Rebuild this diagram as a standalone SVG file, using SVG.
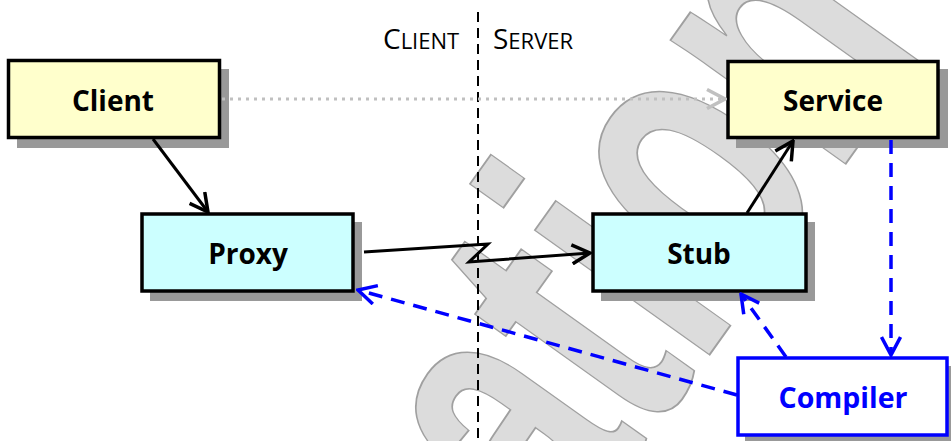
<svg xmlns="http://www.w3.org/2000/svg" width="951" height="441" viewBox="0 0 951 441">
<defs>
<style>
.wm{font-family:"Liberation Sans",Arial,sans-serif;font-weight:bold;font-size:406px;fill:#dcdcdc;stroke:#a0a0a0;stroke-width:1.6}
.shadow{fill:#999999}
.box{stroke:#000;stroke-width:3.5}
.yel{fill:#ffffcc}
.cyan{fill:#ccffff}
.lbl{font-family:"Open Sans","Liberation Sans",sans-serif;font-weight:bold;font-size:28px;fill:#000;text-anchor:middle}
.cap{font-family:"Open Sans","Liberation Sans",sans-serif;font-size:28px;fill:#000}
.sm{font-size:22px}
.solid{fill:none;stroke:#000;stroke-width:3}
.blue{fill:none;stroke:#0000ff;stroke-width:3.5;stroke-dasharray:14 9}
.dotted{fill:none;stroke:#c0c0c0;stroke-width:3;stroke-dasharray:3 5}
</style>
<marker id="ab" viewBox="0 0 22 22" refX="20" refY="11" markerWidth="22" markerHeight="22" orient="auto" markerUnits="userSpaceOnUse"><path d="M2,1.5 L20,11 L2,20.5" fill="none" stroke="#000" stroke-width="3.5"/></marker>
<marker id="au" viewBox="0 0 22 22" refX="20" refY="11" markerWidth="22" markerHeight="22" orient="auto" markerUnits="userSpaceOnUse"><path d="M2,1.5 L20,11 L2,20.5" fill="none" stroke="#0000ff" stroke-width="3.5"/></marker>
<marker id="ag" viewBox="0 0 22 22" refX="20" refY="11" markerWidth="22" markerHeight="22" orient="auto" markerUnits="userSpaceOnUse"><path d="M2,1.5 L20,11 L2,20.5" fill="none" stroke="#c0c0c0" stroke-width="3.5"/></marker>
</defs>
<rect width="951" height="441" fill="#fff"/>
<g id="watermark"><text class="wm" x="-360.9" y="0" vector-effect="non-scaling-stroke" transform="translate(698.7,369.9) rotate(-54.5) scale(0.65,1)">ation</text></g>
<g id="divider">
<line x1="478" y1="12" x2="478" y2="441" stroke="#000" stroke-width="2" stroke-dasharray="10 6"/>
<text class="cap" x="383" y="49">C<tspan class="sm">LIENT</tspan></text>
<text class="cap" x="493" y="49">S<tspan class="sm">ERVER</tspan></text>
</g>
<g id="client">
<rect class="shadow" x="17" y="69" width="212" height="79"/>
<rect class="box yel" x="8.5" y="60.5" width="211" height="77"/>
<text class="lbl" x="113" y="111">Client</text>
</g>
<g id="proxy">
<rect class="shadow" x="150" y="222" width="212" height="79"/>
<rect class="box cyan" x="142" y="214" width="211" height="77"/>
<text class="lbl" x="248" y="264">Proxy</text>
</g>
<g id="stub">
<rect class="shadow" x="601" y="222" width="214" height="79"/>
<rect class="box cyan" x="593" y="214" width="213" height="77"/>
<text class="lbl" x="699" y="264">Stub</text>
</g>
<g id="service">
<rect class="shadow" x="736" y="69" width="212" height="79"/>
<rect class="box yel" x="728" y="61.5" width="210" height="76"/>
<text class="lbl" x="833" y="111">Service</text>
</g>
<g id="compiler">
<rect class="shadow" x="745" y="366" width="212" height="79"/>
<rect x="738" y="358" width="209" height="77" fill="#fff" stroke="#0000ff" stroke-width="3.5"/>
<text class="lbl" x="843" y="408" style="fill:#0000ff;font-size:28.5px">Compiler</text>
</g>
<g id="connectors">
<line class="dotted" x1="222" y1="99" x2="725" y2="99" marker-end="url(#ag)"/>
<line class="solid" x1="153" y1="139" x2="208" y2="212" marker-end="url(#ab)"/>
<polyline class="solid" points="364,252 488,244 469,262 590,253" marker-end="url(#ab)"/>
<line class="solid" x1="747" y1="213" x2="793" y2="141" marker-end="url(#ab)"/>
<line class="blue" x1="891" y1="140" x2="891" y2="355" marker-end="url(#au)"/>
<line class="blue" x1="737" y1="395" x2="358" y2="290" marker-end="url(#au)"/>
<line class="blue" x1="786" y1="357" x2="741" y2="294" marker-end="url(#au)"/>
</g>
</svg>
